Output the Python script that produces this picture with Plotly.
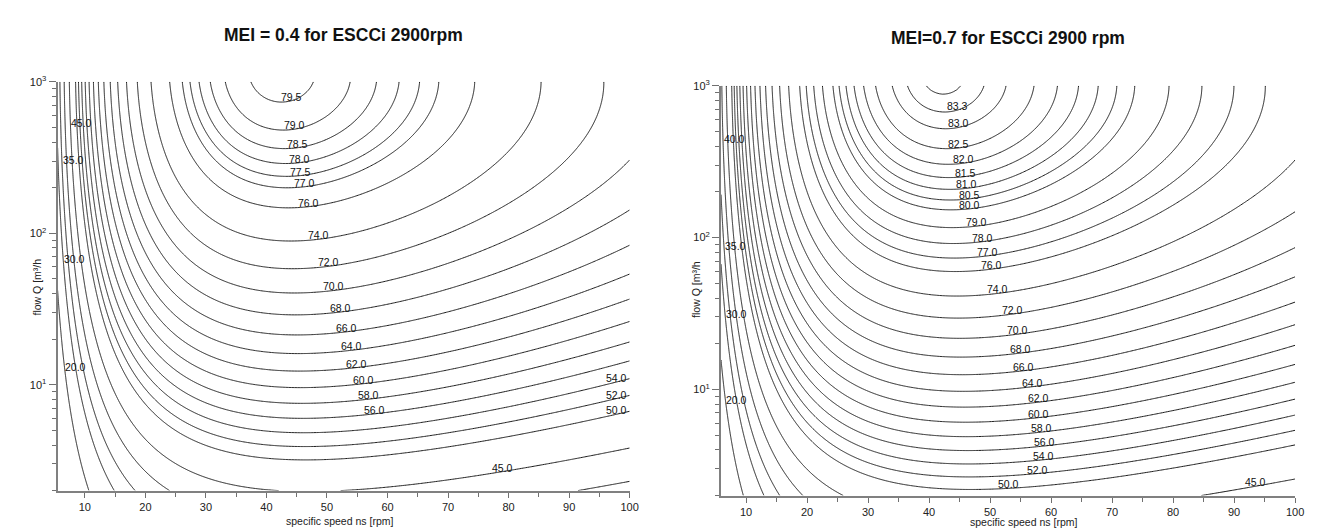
import numpy as np
import plotly.graph_objects as go

# ---- Data: EU 547/2012 minimum-efficiency surface  eta(ns, Q) ----
# eta = A*x^2 + B*y^2 + D*x*y + E*x + F*y - C ,  x = ln(ns), y = ln(Q)
COEF_X2 = -11.48
COEF_Y2 = -0.85
COEF_XY = -0.38
COEF_X = 88.59
COEF_Y = 13.46
C_VALUES = [133.68, 129.80]          # MEI 0.4, MEI 0.7 (ESCCi 2900 rpm)

titles = ["MEI = 0.4 for ESCCi 2900rpm", "MEI=0.7 for ESCCi 2900 rpm"]
ns_ranges = [[5.5, 100.0], [5.9, 100.0]]
q_range = [2.0, 1000.0]

levels_left = [20, 30, 35, 40, 45, 50, 52, 54, 56, 58, 60, 62, 64, 66, 68, 70,
               72, 74, 76, 77, 77.5, 78, 78.5, 79, 79.5]
levels_right = [20, 30, 35, 40, 45, 50, 52, 54, 56, 58, 60, 62, 64, 66, 68, 70,
                72, 74, 76, 77, 78, 79, 80, 80.5, 81, 81.5, 82, 82.5, 83, 83.3, 83.5]

x_tickvals = [10, 20, 30, 40, 50, 60, 70, 80, 90, 100]
x_minor = [5, 15, 25, 35, 45, 55, 65, 75, 85, 95]
y_tickvals = [10, 100, 1000]
y_ticktext = ["10<sup>1</sup>", "10<sup>2</sup>", "10<sup>3</sup>"]
y_minor = [2, 3, 4, 5, 6, 7, 8, 9, 20, 30, 40, 50, 60, 70, 80, 90,
           200, 300, 400, 500, 600, 700, 800, 900]

# ---- Layout: where each contour label sits (level, anchor kind, anchor value) ----
# 'ns' -> label centred above the line at that specific speed
# 'q'  -> label starting at the line at that flow (left, steep branch)
label_anchor_left = [
    (79.5, "ns", 44.2), (79.0, "ns", 44.6), (78.5, "ns", 45.1), (78.0, "ns", 45.5),
    (77.5, "ns", 45.6), (77.0, "ns", 46.3), (76.0, "ns", 47.0), (74.0, "ns", 48.6),
    (72.0, "ns", 50.2), (70.0, "ns", 51.1), (68.0, "ns", 52.2), (66.0, "ns", 53.3),
    (64.0, "ns", 54.0), (62.0, "ns", 54.8), (60.0, "ns", 56.0), (58.0, "ns", 56.8),
    (56.0, "ns", 57.8), (54.0, "ns", 97.8), (52.0, "ns", 97.8), (50.0, "ns", 97.8),
    (45.0, "ns", 79.0),
    (45.0, "q", 533), (35.0, "q", 303), (30.0, "q", 68), (20.0, "q", 13.1),
]
label_anchor_right = [
    (83.3, "ns", 44.6), (83.0, "ns", 44.8), (82.5, "ns", 44.8), (82.0, "ns", 45.6),
    (81.5, "ns", 45.9), (81.0, "ns", 46.1), (80.5, "ns", 46.6), (80.0, "ns", 46.6),
    (79.0, "ns", 47.7), (78.0, "ns", 48.7), (77.0, "ns", 49.5), (76.0, "ns", 50.3),
    (74.0, "ns", 51.3), (72.0, "ns", 53.6), (70.0, "ns", 54.5), (68.0, "ns", 55.0),
    (66.0, "ns", 55.5), (64.0, "ns", 57.0), (62.0, "ns", 58.0), (60.0, "ns", 58.0),
    (58.0, "ns", 58.4), (56.0, "ns", 58.9), (54.0, "ns", 58.7), (52.0, "ns", 57.7),
    (50.0, "ns", 53.0), (45.0, "ns", 93.5),
    (40.0, "q", 446), (35.0, "q", 87.5), (30.0, "q", 31.2), (20.0, "q", 8.5),
]

W, H = 1317, 529
plot_boxes = [(58, 634, 75, 490), (726, 1304, 79, 495)]   # px: x0,x1,y0,y1
LINE = "#1c1c1c"
FONT = "Liberation Sans, Arial, sans-serif"


def eta(lns, lq, C):
    return (COEF_X2 * lns ** 2 + COEF_Y2 * lq ** 2 + COEF_XY * lns * lq
            + COEF_X * lns + COEF_Y * lq - C)


def q_on_level(ns, level, C):
    x = np.log(ns)
    a = COEF_Y2
    b = COEF_Y + COEF_XY * x
    c = COEF_X2 * x ** 2 + COEF_X * x - C - level
    s = np.sqrt(b * b - 4 * a * c)
    return float(np.exp((-b + s) / (2 * a)))


def ns_on_level(q, level, C):
    y = np.log(q)
    a = COEF_X2
    b = COEF_X + COEF_XY * y
    c = COEF_Y2 * y ** 2 + COEF_Y * y - C - level
    s = np.sqrt(b * b - 4 * a * c)
    return float(np.exp((-b + s) / (2 * a)))


def runs(levels):
    out = []
    i = 0
    while i < len(levels):
        if i + 1 < len(levels):
            step = levels[i + 1] - levels[i]
            j = i + 1
            while j + 1 < len(levels) and abs((levels[j + 1] - levels[j]) - step) < 1e-9:
                j += 1
            out.append((levels[i], levels[j], step))
            i = j + 1
        else:
            out.append((levels[i], levels[i], 1.0))
            i += 1
    return out


fig = go.Figure()
annotations = []

for k in range(2):
    C = C_VALUES[k]
    ns = np.geomspace(ns_ranges[k][0], ns_ranges[k][1], 260)
    q = np.geomspace(q_range[0], q_range[1], 200)
    X, Y = np.meshgrid(np.log(ns), np.log(q))
    Z = np.round(eta(X, Y, C), 3)
    xa = "x" if k == 0 else "x2"
    ya = "y" if k == 0 else "y2"
    lv = levels_left if k == 0 else levels_right
    for (a, b, s) in runs(lv):
        fig.add_trace(go.Contour(
            x=ns, y=q, z=Z, xaxis=xa, yaxis=ya,
            autocontour=False,
            contours=dict(start=a, end=b, size=s, coloring="none", showlabels=False),
            line=dict(color=LINE, width=1, smoothing=0),
            showscale=False, hoverinfo="skip", showlegend=False,
        ))
    anchors = label_anchor_left if k == 0 else label_anchor_right
    for (lev, kind, val) in anchors:
        if kind == "ns":
            lx, ly = val, q_on_level(val, lev, C)
            annotations.append(dict(
                text="%.1f" % lev, x=lx, y=np.log10(ly), xref=xa, yref=ya,
                showarrow=False, xanchor="center", yanchor="bottom", yshift=-4,
                font=dict(size=10.5, color="#111", family=FONT)))
        else:
            lx, ly = ns_on_level(val, lev, C), val
            lx = max(lx, ns_ranges[k][0])
            annotations.append(dict(
                text="%.1f" % lev, x=lx, y=np.log10(ly), xref=xa, yref=ya,
                showarrow=False, xanchor="left", yanchor="middle", xshift=-1,
                font=dict(size=10.5, color="#111", family=FONT)))

axis_common = dict(showline=True, linecolor="#808080", linewidth=2,
                   showgrid=False, zeroline=False, ticks="outside",
                   tickcolor="#707070", tickwidth=1,
                   tickfont=dict(size=11, color="#222", family=FONT))

layout = dict(width=W, height=H, margin=dict(l=0, r=0, t=0, b=0),
              paper_bgcolor="white", plot_bgcolor="white", showlegend=False)

for k in range(2):
    x0, x1, y0, y1 = plot_boxes[k]
    sfx = "" if k == 0 else "2"
    layout["xaxis" + sfx] = dict(
        axis_common, domain=[x0 / W, x1 / W], range=ns_ranges[k],
        anchor="y" + sfx, tickvals=x_tickvals, ticklen=5,
        minor=dict(tickvals=x_minor, ticks="outside", ticklen=4,
                   tickcolor="#707070", tickwidth=1))
    layout["yaxis" + sfx] = dict(
        axis_common, domain=[1 - y1 / H, 1 - y0 / H], type="log",
        range=[np.log10(q_range[0]), np.log10(q_range[1])],
        anchor="x" + sfx, tickvals=y_tickvals, ticktext=y_ticktext, ticklen=7,
        minor=dict(tickvals=y_minor, ticks="outside", ticklen=4,
                   tickcolor="#707070", tickwidth=1))

fig.update_layout(**layout)

title_pos = [(346, 27), (1015, 30)]
xt_pos = [(342, 521), (1031, 522)]
yt_pos = [(37, 283), (700, 286)]
for k in range(2):
    annotations.append(dict(text="<b>" + titles[k] + "</b>", x=title_pos[k][0] / W,
                            y=1 - title_pos[k][1] / H, xref="paper", yref="paper",
                            showarrow=False, xanchor="center", yanchor="middle",
                            font=dict(size=17.5, color="#111", family=FONT)))
    annotations.append(dict(text="specific speed ns [rpm]", x=xt_pos[k][0] / W,
                            y=1 - xt_pos[k][1] / H, xref="paper", yref="paper",
                            showarrow=False, xanchor="center", yanchor="middle",
                            font=dict(size=10.5, color="#222", family=FONT)))
    annotations.append(dict(text="flow Q [m³/h", x=yt_pos[k][0] / W,
                            y=1 - yt_pos[k][1] / H, xref="paper", yref="paper",
                            showarrow=False, xanchor="center", yanchor="middle",
                            textangle=-90,
                            font=dict(size=10.5, color="#222", family=FONT)))
fig.update_layout(annotations=annotations)

fig.write_html("out.html")
